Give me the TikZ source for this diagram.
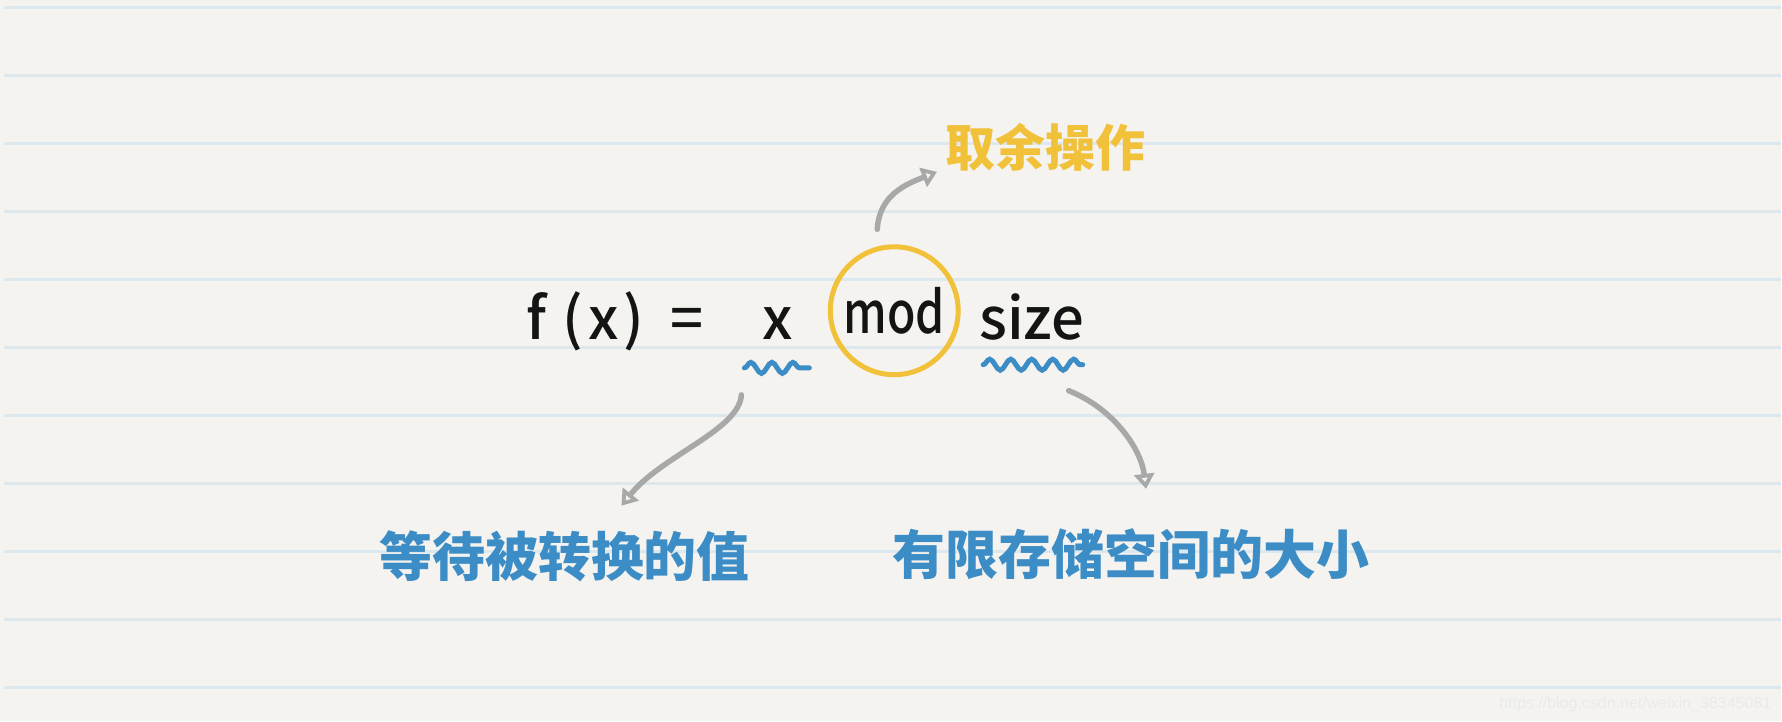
\documentclass[tikz,border=0pt]{standalone}
\usepackage{fontspec}
\setmainfont{Liberation Sans}
\newfontfamily\cjk{Noto Sans CJK SC}
\newfontfamily\cjkmid{Noto Sans CJK SC Medium}
\usetikzlibrary{arrows.meta,calc,decorations.pathmorphing}

\definecolor{paper}{HTML}{F4F3EF}
\definecolor{rule}{HTML}{DDE7EE}
\definecolor{ink}{HTML}{141414}
\definecolor{note}{HTML}{3C8CC6}
\definecolor{mark}{HTML}{F2C13A}
\definecolor{pencil}{HTML}{A8A8A8}
\definecolor{stamp}{HTML}{EAEAE7}

\tikzset{
  term/.style={font=\cjkmid\fontsize{58}{60}\selectfont, text=ink, inner sep=0pt},
  hint/.style={font=\cjk\bfseries\fontsize{53}{55}\selectfont, text=note, inner sep=0pt},
  wavy/.style={note, line width=5pt, line cap=round, decorate,
    decoration={snake, segment length=21pt, amplitude=5.5pt}},
  pointer/.style={pencil, line width=5.5pt, line cap=round,
    -{Triangle[open, length=15pt, width=20pt]}},
}

\begin{document}
\begin{tikzpicture}[x=1pt, y=-1pt]
  \fill[paper] (0,0) rectangle (1782,722);
  \foreach \k in {0,...,10}
    \draw[rule, line width=3pt] (4,7.3+68.1*\k) -- (1782,7.3+68.1*\k);

  % formula
  \node[term, anchor=base west] (fx) at (527,340) {f\kern16pt(\kern5pt x\kern5pt)\kern26pt=};
  \node[term, anchor=base] (xvar) at (778,340) {x};
  \node[term, circle, draw=mark, line width=5pt, minimum size=128pt] (mod) at (895,311) {\scalebox{0.8}[1]{mod}};
  \node[term, anchor=base west] (size) at (980,340) {size};

  % notes
  \node[font=\cjk\bfseries\fontsize{50}{52}\selectfont, text=mark, inner sep=0pt] (op) at (1046,147) {取余操作};
  \node[hint] (val) at (565,557) {等待被转换的值};
  \node[hint] (cap) at (1132,555) {有限存储空间的大小};
  \node[font=\fontsize{16}{18}\selectfont, text=stamp, anchor=base east, inner sep=0pt] (url) at (1773,709) {https://blog.csdn.net/weixin\_38345081};

  \draw[wavy] ($(xvar.south)+(-33,28)$) -- ($(xvar.south)+(32,28)$);
  \draw[wavy] ($(size.south west)+(4,24)$) -- ($(size.south east)+(-2,24)$);

  \draw[pointer] ($(mod.north)+(-17,-15)$) .. controls +(2,-35) and +(-30,12) .. ($(op.west)+(-8,25)$);
  \draw[pointer] ($(xvar.south)+(-36,55)$) .. controls +(-2,35) and +(40,-50) .. ($(val.north)+(57,-25)$);
  \draw[pointer] ($(size.south east)+(-16,50)$) .. controls +(45,18) and +(-5,-40) .. ($(cap.north)+(15,-40)$);
\end{tikzpicture}
\end{document}
